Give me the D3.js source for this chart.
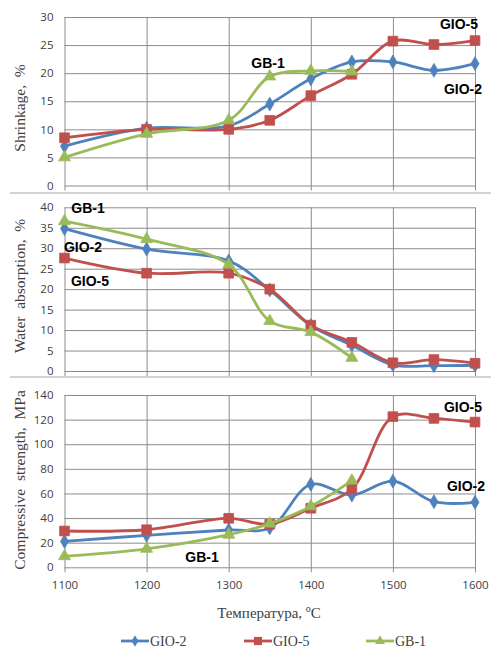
<!DOCTYPE html>
<html><head><meta charset="utf-8">
<script src="https://cdn.jsdelivr.net/npm/d3@7"></script>
<style>
html,body{margin:0;padding:0;background:#fff;}
svg{display:block;}
</style></head>
<body>
<svg id="c" width="491" height="648"></svg>
<script>
const temps = [1100,1200,1300,1350,1400,1450,1500,1550,1600];
const xTicks = [1100,1200,1300,1400,1500,1600];
const seriesNames = ["GIO-2","GIO-5","GB-1"];

// Shrinkage, %
const shrinkGIO2 = [7.0,10.2,10.6,14.5,19.0,22.0,22.0,20.5,21.7];
const shrinkGIO5 = [8.5,10.0,10.0,11.6,16.0,19.8,25.7,25.1,25.8];
const shrinkGB1  = [5.0,9.2,11.6,19.4,20.4,20.3];

// Water absorption, %
const waterGIO2 = [34.8,29.8,26.9,19.8,11.1,6.3,1.5,1.3,1.4];
const waterGIO5 = [27.6,23.9,23.9,20.0,11.2,7.0,2.0,2.8,1.9];
const waterGB1  = [36.6,32.2,26.0,12.2,9.5,3.2];

// Compressive strength, MPa
const compGIO2 = [21.0,26.0,30.3,32.0,67.4,58.7,70.0,53.3,52.8];
const compGIO5 = [29.5,30.5,39.8,35.0,48.0,63.6,122.4,121.0,118.0];
const compGB1  = [9.0,15.0,26.5,35.5,49.5,70.4];

const shrinkTicks = [0,5,10,15,20,25,30];
const waterTicks = [0,5,10,15,20,25,30,35,40];
const compTicks = [0,20,40,60,80,100,120,140];

const colors = {"GIO-2":"#4F81BD","GIO-5":"#C0504D","GB-1":"#9BBB59"};
const shapes = {"GIO-2":d3.symbolDiamond,"GIO-5":d3.symbolSquare,"GB-1":d3.symbolTriangle};
const sizes = {"GIO-2":55,"GIO-5":95,"GB-1":62};

const svg = d3.select("#c");
const x = d3.scaleLinear().domain([1100,1600]).range([64.5,475]);

const panels = [
  {title:"Shrinkage,  %", domain:[0,30], range:[185.5,17], ticks:shrinkTicks, cy:108,
   data:{"GIO-2":shrinkGIO2,"GIO-5":shrinkGIO5,"GB-1":shrinkGB1},
   labels:[{t:"GIO-5",x:459,y:24},{t:"GB-1",x:268,y:63},{t:"GIO-2",x:463,y:89}]},
  {title:"Water  absorption,  %", domain:[0,40], range:[371,207.3], ticks:waterTicks, cy:286,
   data:{"GIO-2":waterGIO2,"GIO-5":waterGIO5,"GB-1":waterGB1},
   labels:[{t:"GB-1",x:88,y:208},{t:"GIO-2",x:83,y:247},{t:"GIO-5",x:90,y:281}]},
  {title:"Compressive  strength,  MPa", domain:[0,140], range:[567.3,395], ticks:compTicks, cy:480,
   data:{"GIO-2":compGIO2,"GIO-5":compGIO5,"GB-1":compGB1},
   labels:[{t:"GIO-5",x:463,y:407},{t:"GIO-2",x:466,y:486},{t:"GB-1",x:202,y:557}], xlabels:true}
];

// separator lines between stacked charts
[193,377].forEach(yy=>{
  svg.append("line").attr("x1",10).attr("x2",491).attr("y1",yy).attr("y2",yy)
    .attr("stroke","#a6a6a6").attr("stroke-width",1);
});

panels.forEach(p=>{
  const y = d3.scaleLinear().domain(p.domain).range(p.range);
  const g = svg.append("g");
  const w = x.range()[1]-x.range()[0];
  const h = p.range[0]-p.range[1];

  const ya = g.append("g").attr("transform",`translate(${x.range()[0]},0)`)
    .call(d3.axisLeft(y).tickValues(p.ticks).tickSizeInner(-w).tickSizeOuter(0).tickPadding(11));
  ya.select(".domain").remove();
  ya.selectAll("line").attr("stroke","#8c8c8c").attr("stroke-width",1);
  ya.selectAll("text").attr("font-family","'Open Sans', sans-serif").attr("font-size",11.5).attr("fill","#404040");

  const xa = g.append("g").attr("transform",`translate(0,${p.range[0]+5})`)
    .call(d3.axisBottom(x).tickValues(xTicks).tickSizeInner(-(h+5)).tickSizeOuter(0).tickPadding(9).tickFormat(d3.format("d")));
  xa.select(".domain").remove();
  xa.selectAll("line").attr("stroke","#8c8c8c").attr("stroke-width",1);
  xa.selectAll("text").attr("font-family","'Open Sans', sans-serif").attr("font-size",11.5).attr("fill","#404040")
    .style("display", p.xlabels ? null : "none");

  svg.append("text").attr("transform",`translate(25,${p.cy}) rotate(-90)`)
    .attr("text-anchor","middle").attr("font-family","'Liberation Serif', serif").attr("font-size",15.5)
    .attr("fill","#404040").style("white-space","pre").text(p.title);

  const line = d3.line().x(d=>x(d[0])).y(d=>y(d[1])).curve(d3.curveCatmullRom.alpha(0.5));
  seriesNames.forEach(name=>{
    const vals = p.data[name];
    const pts = vals.map((v,i)=>[temps[i],v]);
    g.append("path").attr("d",line(pts)).attr("fill","none")
      .attr("stroke",colors[name]).attr("stroke-width",2.8).attr("stroke-linejoin","round");
    g.selectAll(null).data(pts).enter().append("path")
      .attr("d",d3.symbol().type(shapes[name]).size(sizes[name]))
      .attr("transform",d=>`translate(${x(d[0])},${y(d[1])})`)
      .attr("fill",colors[name]).attr("stroke",colors[name]).attr("stroke-width",0.8);
  });

  p.labels.forEach(l=>{
    g.append("text").attr("x",l.x).attr("y",l.y).attr("dy","0.35em").attr("text-anchor","middle")
      .attr("font-family","'Liberation Sans', Arial, sans-serif").attr("font-weight","bold")
      .attr("font-size",14).attr("fill","#000").text(l.t);
  });
});

const xt = svg.append("text").attr("x",269).attr("y",618).attr("text-anchor","middle")
  .attr("font-family","'Liberation Serif', serif").attr("font-size",15).attr("fill","#404040");
xt.append("tspan").text("Температура, ");
xt.append("tspan").attr("font-size",10).attr("dy",-6).text("o");
xt.append("tspan").attr("dy",6).text("C");

const legX = [121,244,366];
seriesNames.forEach((name,i)=>{
  const lg = svg.append("g").attr("transform",`translate(${legX[i]},641)`);
  lg.append("line").attr("x1",0).attr("x2",28).attr("stroke",colors[name]).attr("stroke-width",2.8);
  lg.append("path").attr("d",d3.symbol().type(shapes[name]).size(sizes[name]*0.7))
    .attr("transform","translate(14,0)").attr("fill",colors[name]);
  lg.append("text").attr("x",29).attr("y",0).attr("dy","0.35em")
    .attr("font-family","'Liberation Serif', serif").attr("font-size",14).attr("fill","#404040").text(name);
});
</script>
</body></html>
